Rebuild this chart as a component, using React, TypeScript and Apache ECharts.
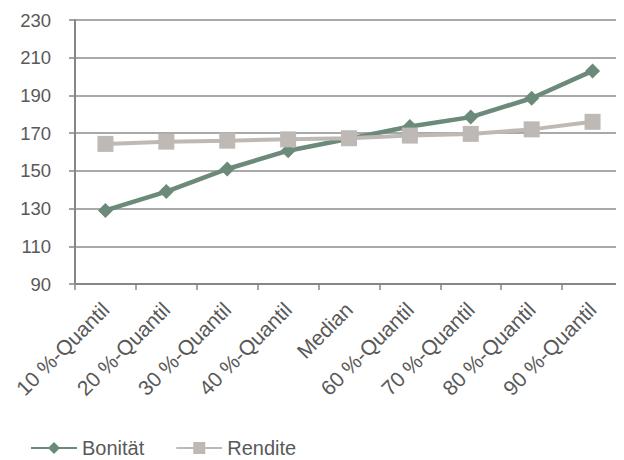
import React, { useEffect, useRef } from "react";
import * as echarts from "echarts";

// Category labels along the x axis
const categories: string[] = [
  "10 %-Quantil",
  "20 %-Quantil",
  "30 %-Quantil",
  "40 %-Quantil",
  "Median",
  "60 %-Quantil",
  "70 %-Quantil",
  "80 %-Quantil",
  "90 %-Quantil",
];

// Series values
const bonitaet: number[] = [129, 139, 151, 160.7, 167, 173.5, 178.5, 188.5, 203];
const rendite: number[] = [164.3, 165.5, 166, 166.7, 167.3, 168.7, 169.6, 172, 176];

// Value axis range
const yMin = 90;
const yMax = 230;
const yStep = 20;

const FONT = "'Liberation Sans', Arial, Helvetica, sans-serif";
const TEXT = "#595959";
const AXIS = "#868686";

export default function App() {
  const ref = useRef<HTMLDivElement>(null);

  useEffect(() => {
    if (!ref.current) return;
    const chart = echarts.init(ref.current, undefined, { renderer: "svg" });
    chart.setOption({
      animation: false,
      textStyle: { fontFamily: FONT },
      grid: { left: 75, right: 1, top: 20, bottom: 176, containLabel: false },
      legend: {
        left: 25,
        top: 433,
        itemWidth: 46,
        itemHeight: 15,
        itemGap: 31,
        textStyle: { fontSize: 20, color: TEXT, fontFamily: FONT },
        data: ["Bonität", "Rendite"],
      },
      xAxis: {
        type: "category",
        data: categories,
        boundaryGap: true,
        axisLine: { lineStyle: { color: AXIS, width: 2 } },
        axisTick: { show: true, length: 6, interval: 0, lineStyle: { color: AXIS, width: 1.5 } },
        axisLabel: {
          interval: 0,
          rotate: 45,
          margin: 22,
          fontSize: 21,
          color: TEXT,
          fontFamily: FONT,
        },
      },
      yAxis: {
        type: "value",
        min: yMin,
        max: yMax,
        interval: yStep,
        axisLine: { show: true, lineStyle: { color: AXIS, width: 2 } },
        axisTick: { show: true, length: 6, lineStyle: { color: AXIS, width: 1.5 } },
        axisLabel: { margin: 24, fontSize: 18.5, color: TEXT, fontFamily: FONT },
        splitLine: { show: true, lineStyle: { color: "#8c8c8c", width: 1.5 } },
      },
      series: [
        {
          name: "Bonität",
          type: "line",
          data: bonitaet,
          symbol: "diamond",
          symbolSize: 15,
          lineStyle: { color: "#6b8a7a", width: 4.5 },
          itemStyle: { color: "#6b8a7a" },
        },
        {
          name: "Rendite",
          type: "line",
          data: rendite,
          symbol: "rect",
          symbolSize: 16,
          lineStyle: { color: "#bfb9b5", width: 4 },
          itemStyle: { color: "#bfb9b5" },
        },
      ],
    });
    return () => chart.dispose();
  }, []);

  return <div ref={ref} style={{ width: 624, height: 460, marginLeft: -8, marginTop: -8 }} />;
}
